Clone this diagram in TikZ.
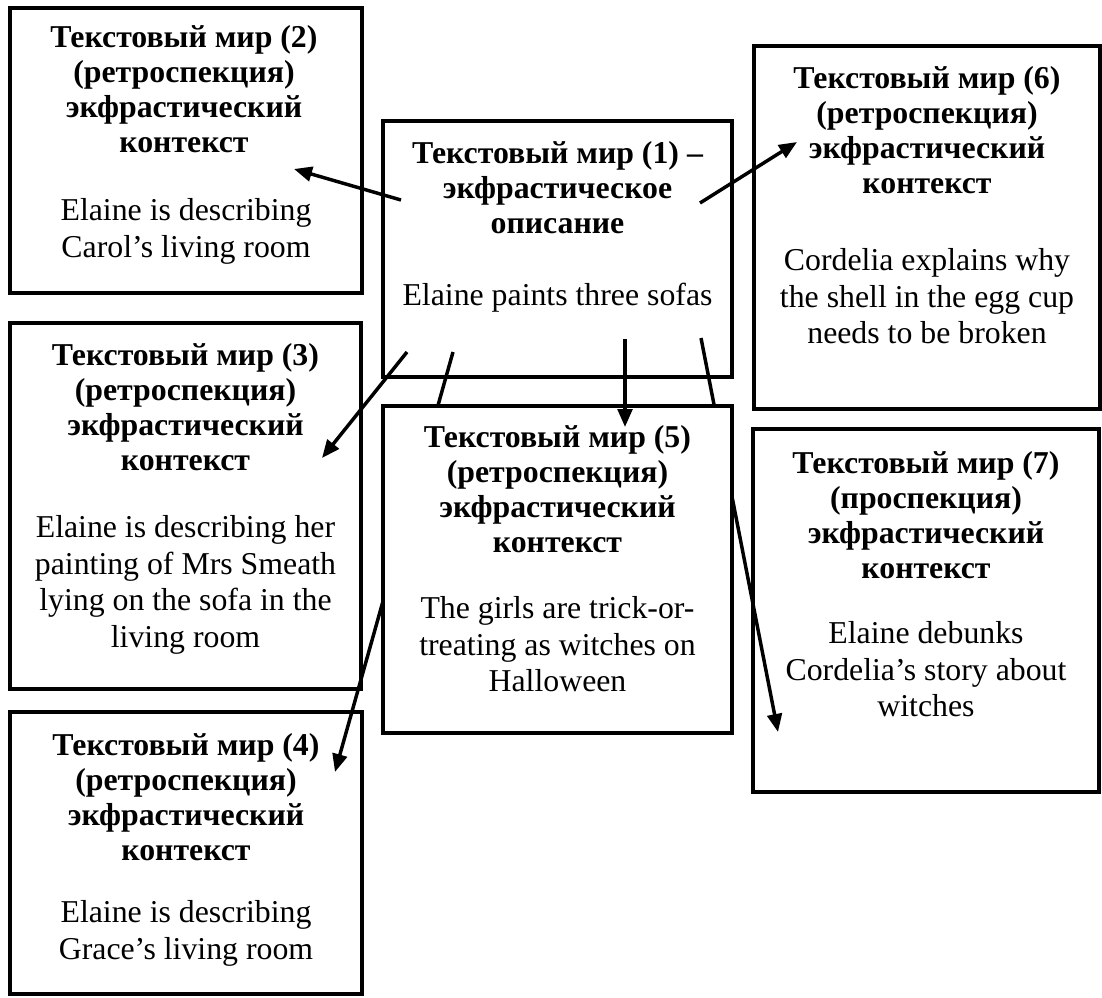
\documentclass[tikz,border=0pt]{standalone}
\usepackage{fontspec}
\setmainfont{Liberation Serif}
\usetikzlibrary{arrows.meta,fit}
\begin{document}
\begin{tikzpicture}[x=0.75pt,y=-0.75pt,
  box/.style={draw, line width=2.8pt, fill=white, inner sep=0pt, rectangle},
  ttl/.style={anchor=north, align=center, inner sep=0pt,
    font=\fontsize{23.85}{26.3}\selectfont\bfseries},
  body/.style={anchor=north, align=center, inner sep=0pt,
    font=\fontsize{23.85}{27.5}\selectfont},
  link/.style={line width=2.6pt, -{Triangle[length=13.5pt,width=11pt]}}]
\useasboundingbox (0,0) rectangle (1102,997);

% text world boxes
\node[box, fit={(383,121) (732,377)}] (b1) {};
\node[ttl] (t1) at (557.5,141) {Текстовый мир (1) –\\экфрастическое\\описание};
\node[body] (d1) at (557.5,283) {Elaine paints three sofas};

\node[box, fit={(10,8) (362,293)}] (b2) {};
\node[ttl] (t2) at (184,25) {Текстовый мир (2)\\(ретроспекция)\\экфрастический\\контекст};
\node[body] (d2) at (186,198) {Elaine is describing\\Carol’s living room};

\node[box, fit={(10,323) (361,689)}] (b3) {};
\node[ttl] (t3) at (185.5,343) {Текстовый мир (3)\\(ретроспекция)\\экфрастический\\контекст};
\node[body] (d3) at (185.5,515) {Elaine is describing her\\painting of Mrs Smeath\\lying on the sofa in the\\living room};

\node[box, fit={(10,712) (362,994)}] (b4) {};
\node[ttl] (t4) at (186,733) {Текстовый мир (4)\\(ретроспекция)\\экфрастический\\контекст};
\node[body] (d4) at (186,900) {Elaine is describing\\Grace’s living room};

\node[box, fit={(754,46) (1100,409)}] (b6) {};
\node[ttl] (t6) at (927,66) {Текстовый мир (6)\\(ретроспекция)\\экфрастический\\контекст};
\node[body] (d6) at (927,248) {Cordelia explains why\\the shell in the egg cup\\needs to be broken};

\node[box, fit={(753,429) (1099,792)}] (b7) {};
\node[ttl] (t7) at (926,451) {Текстовый мир (7)\\(проспекция)\\экфрастический\\контекст};
\node[body] (d7) at (926,621) {Elaine debunks\\Cordelia’s story about\\witches};

% arrow end points
\coordinate (s12) at (401,200); \coordinate (e12) at (294,169);
\coordinate (s16) at (700,203); \coordinate (e16) at (797,142);
\coordinate (s13) at (407,352); \coordinate (e13) at (322,458);
\coordinate (s14) at (453,352); \coordinate (e14) at (335,772);
\coordinate (s15) at (625,339); \coordinate (e15) at (625,427);
\coordinate (s17) at (701,338); \coordinate (e17) at (778,732);

% these two pass behind box 5
\draw[link] (s14) -- (e14);
\draw[link] (s17) -- (e17);

\node[box, fit={(383,406) (732,733)}] (b5) {};
\node[ttl] (t5) at (557.5,425) {Текстовый мир (5)\\(ретроспекция)\\экфрастический\\контекст};
\node[body] (d5) at (557.5,596) {The girls are trick-or-\\treating as witches on\\Halloween};

\draw[link] (s12) -- (e12);
\draw[link] (s16) -- (e16);
\draw[link] (s13) -- (e13);
\draw[link] (s15) -- (e15);
\end{tikzpicture}
\end{document}
